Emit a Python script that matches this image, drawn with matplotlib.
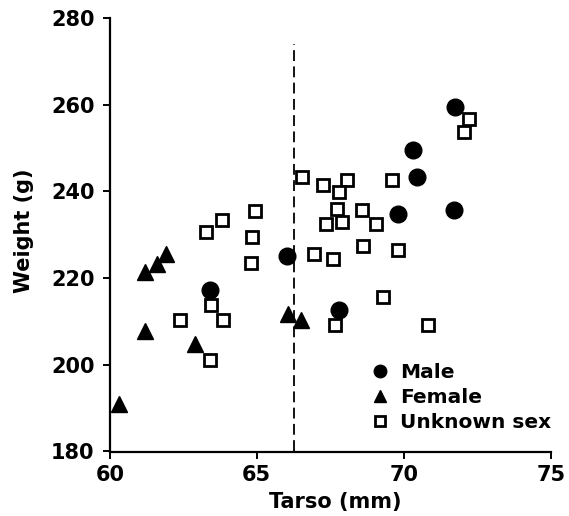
import matplotlib
matplotlib.use("Agg")
import matplotlib.pyplot as plt

plt.rcParams['font.family'] = ['DejaVu Sans']

male_x = [63.4, 66.03, 67.8, 69.8, 71.7, 70.45, 70.3, 71.75]
male_y = [217.2, 225.0, 212.7, 234.7, 235.8, 243.4, 249.5, 259.4]

female_x = [61.9, 61.6, 61.2, 61.2, 62.9, 60.3, 66.07, 66.5]
female_y = [225.5, 223.2, 221.4, 207.9, 204.9, 191.0, 211.8, 210.4]

unknown_x = [64.95, 63.8, 63.27, 64.85, 64.8, 63.45, 63.85, 62.38, 63.42,
             72.22, 72.06, 66.55, 67.26, 68.08, 67.8, 69.61, 67.73, 68.59,
             67.35, 67.91, 69.07, 66.94, 67.6, 68.62, 69.81, 69.3, 67.65, 70.83]
unknown_y = [235.5, 233.5, 230.6, 229.5, 223.5, 213.7, 210.3, 210.3, 201.2,
             256.6, 253.7, 243.4, 241.4, 242.6, 239.9, 242.6, 236.0, 235.7,
             232.6, 233.0, 232.6, 225.5, 224.3, 227.4, 226.6, 215.6, 209.1, 209.3]

cutoff_x = 66.25
cutoff_top = 274

x_ticks = [60, 65, 70, 75]
y_ticks = [180, 200, 220, 240, 260, 280]

fig = plt.figure(figsize=(5.69, 5.16), dpi=100)
ax = fig.add_axes([0.193, 0.125, 0.775, 0.84])

ax.plot([cutoff_x, cutoff_x], [180, cutoff_top], color='black', lw=1.3,
        linestyle=(0, (6, 3)), zorder=1)

ax.plot(unknown_x, unknown_y, 's', ms=9, mfc='white', mec='black', mew=2.0,
        linestyle='none', label='Unknown sex', zorder=2)
ax.plot(female_x, female_y, '^', ms=11, color='black', linestyle='none',
        label='Female', zorder=3)
ax.plot(male_x, male_y, 'o', ms=12, color='black', linestyle='none',
        label='Male', zorder=3)

ax.set_xlim(60, 75)
ax.set_ylim(180, 280)
ax.set_xticks(x_ticks)
ax.set_yticks(y_ticks)

for s in ['top', 'right']:
    ax.spines[s].set_visible(False)
for s in ['left', 'bottom']:
    ax.spines[s].set_linewidth(1.6)

ax.tick_params(direction='out', length=5, width=1.4, labelsize=15)
ax.tick_params(axis='y', pad=6)
ax.tick_params(axis='x', pad=5)
for lab in ax.get_xticklabels() + ax.get_yticklabels():
    lab.set_fontweight('bold')

ax.set_xlabel('Tarso (mm)', fontsize=15, fontweight='bold', va='top')
ax.xaxis.set_label_coords(0.512, -0.093)
ax.set_ylabel('Weight (g)', fontsize=15, fontweight='bold', va='center')
ax.yaxis.set_label_coords(-0.195, 0.51)

handles, labels = ax.get_legend_handles_labels()
order = [2, 1, 0]
leg = ax.legend([handles[i] for i in order], [labels[i] for i in order],
                loc='lower right', bbox_to_anchor=(1.0, 0.045), frameon=False,
                prop={'weight': 'bold', 'size': 14.5}, markerscale=0.75,
                handlelength=0.8, handletextpad=0.6, labelspacing=0.3,
                borderpad=0, borderaxespad=0)

fig.savefig('out.png', dpi=100)
